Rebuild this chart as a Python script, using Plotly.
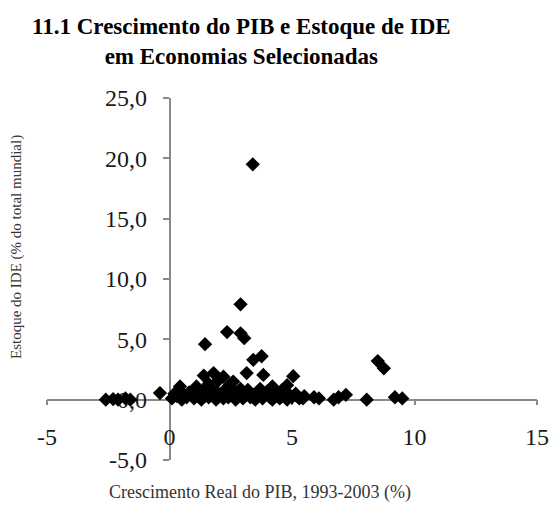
import plotly.graph_objects as go

# Real GDP growth 1993-2003 (%) and FDI stock (% of world total), by economy
gdp_growth = [
    3.4, 2.9, 2.35, 2.9, 3.05, 1.45, 3.42, 3.76, 3.15, 3.83, 5.05,
    -0.39, 0.43, 1.4, 1.8, 2.2, 2.6, 1.1, 1.6, 2.0, 1.75, 2.45,
    8.5, 8.75,
    -2.6, -2.3, -2.1, -1.8, -1.6,
    5.45, 5.9, 6.1, 6.7, 6.9, 7.2, 8.05, 9.2, 9.5,
    0.1, 0.3, 0.5, 0.7, 0.9, 1.0, 1.2, 1.3, 1.5, 1.6, 1.8, 1.9, 2.1, 2.2,
    2.4, 2.5, 2.7, 2.8, 3.0, 3.1, 3.3, 3.5, 3.6, 3.8, 3.9, 4.1, 4.2, 4.4,
    4.5, 4.7, 4.8, 5.0, 5.2, 5.3,
    1.4, 2.3, 2.6, 3.2, 3.7, 4.2, 4.6, 4.8, 0.8, 1.9, 2.9, 4.0,
    0.2, 0.6, 1.1, 1.45, 1.7, 2.0, 2.35, 2.65, 2.95, 3.25, 3.45, 3.75,
    4.05, 4.35, 4.65, 4.9, 5.15, 5.5,
]
fdi_stock = [
    19.5, 7.9, 5.6, 5.5, 5.1, 4.6, 3.3, 3.6, 2.2, 2.05, 1.95,
    0.55, 1.1, 2.0, 2.2, 1.9, 1.5, 1.1, 1.3, 1.6, 0.9, 1.2,
    3.2, 2.6,
    0.0, 0.05, 0.0, 0.1, 0.0,
    0.1, 0.2, 0.1, 0.0, 0.2, 0.4, 0.0, 0.2, 0.1,
    0.1, 0.3, 0.0, 0.2, 0.4, 0.1, 0.3, 0.0, 0.5, 0.2, 0.3, 0.0, 0.4, 0.1,
    0.2, 0.5, 0.0, 0.3, 0.1, 0.4, 0.2, 0.0, 0.3, 0.1, 0.5, 0.2, 0.0, 0.3,
    0.1, 0.4, 0.0, 0.2, 0.3, 0.1,
    0.8, 0.9, 0.7, 0.8, 0.9, 1.1, 0.8, 1.2, 0.6, 0.7, 0.9, 0.7,
    0.5, 0.4, 0.6, 0.3, 0.6, 0.4, 0.6, 0.3, 0.5, 0.6, 0.4, 0.5,
    0.6, 0.5, 0.6, 0.4, 0.5, 0.3,
]

x_ticks = [-5, 0, 5, 10, 15]
x_tick_text = ["-5", "0", "5", "10", "15"]
y_ticks = [-5, 0, 5, 10, 15, 20, 25]
y_tick_text = ["-5,0", "0,0", "5,0", "10,0", "15,0", "20,0", "25,0"]

x_range = [-5, 15]
y_range = [-5, 25]

serif = "Liberation Serif, Times New Roman, serif"
axis_grey = "#8a8a8a"

fig = go.Figure(
    go.Scatter(
        x=gdp_growth,
        y=fdi_stock,
        mode="markers",
        marker=dict(symbol="diamond", size=11, color="#000000", line=dict(width=0)),
        hoverinfo="x+y",
    )
)

# Axes cross at the origin: each axis is "free" and placed where the other is zero
x_pos = (0 - y_range[0]) / (y_range[1] - y_range[0])
y_pos = (0 - x_range[0]) / (x_range[1] - x_range[0])

plot_left, plot_right, plot_top, plot_bottom = 47, 537, 98, 460
plot_w = plot_right - plot_left
plot_h = plot_bottom - plot_top

fig.update_layout(
    width=549,
    height=514,
    margin=dict(l=plot_left, r=549 - plot_right, t=plot_top, b=514 - plot_bottom,
                autoexpand=False),
    paper_bgcolor="white",
    plot_bgcolor="white",
    showlegend=False,
    font=dict(family=serif, color="#1a1a1a"),
    xaxis=dict(
        range=x_range,
        tickvals=x_ticks,
        ticktext=x_tick_text,
        anchor="free",
        position=x_pos,
        showline=True,
        linecolor=axis_grey,
        linewidth=1.5,
        ticks="outside",
        ticklen=5,
        tickwidth=1.5,
        tickcolor=axis_grey,
        ticklabelstandoff=11,
        showgrid=False,
        zeroline=False,
        automargin=False,
        tickfont=dict(family=serif, size=24, color="#1a1a1a"),
        layer="below traces",
    ),
    yaxis=dict(
        range=y_range,
        tickvals=y_ticks,
        ticktext=y_tick_text,
        anchor="free",
        position=y_pos,
        showline=True,
        linecolor=axis_grey,
        linewidth=1.5,
        ticks="outside",
        ticklen=6,
        tickwidth=1.5,
        tickcolor=axis_grey,
        ticklabelstandoff=11,
        showgrid=False,
        zeroline=False,
        automargin=False,
        tickfont=dict(family=serif, size=24, color="#1a1a1a"),
        layer="below traces",
    ),
    annotations=[
        dict(
            text="<b>11.1 Crescimento do PIB e Estoque de IDE<br>em Economias Selecionadas</b>",
            xref="paper",
            yref="paper",
            x=(241 - plot_left) / plot_w,
            y=(plot_bottom - 42) / plot_h,
            xanchor="center",
            yanchor="middle",
            align="center",
            showarrow=False,
            font=dict(family=serif, size=23, color="#000000"),
        ),
        dict(
            text="Crescimento Real do PIB, 1993-2003 (%)",
            xref="paper",
            yref="paper",
            x=(260 - plot_left) / plot_w,
            y=-(492 - plot_bottom) / plot_h,
            xanchor="center",
            yanchor="middle",
            showarrow=False,
            font=dict(family=serif, size=18, color="#333333"),
        ),
        dict(
            text="Estoque do IDE (% do total mundial)",
            xref="paper",
            yref="paper",
            x=(16 - plot_left) / plot_w,
            y=(plot_bottom - 247) / plot_h,
            xanchor="center",
            yanchor="middle",
            textangle=-90,
            showarrow=False,
            font=dict(family=serif, size=15, color="#333333"),
        ),
    ],
)

fig.write_html("out.html")
